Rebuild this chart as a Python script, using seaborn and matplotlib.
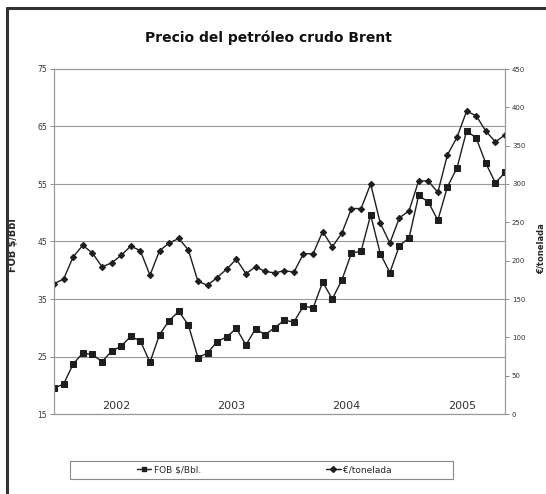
import numpy as np
import pandas as pd
import matplotlib
matplotlib.use('Agg')
import matplotlib.pyplot as plt
from matplotlib.lines import Line2D
from matplotlib.patches import Rectangle
from matplotlib.ticker import MultipleLocator, NullFormatter
import seaborn as sns

# Monthly data, Jan 2002 - Dec 2005
years = ["2002", "2003", "2004", "2005"]
fob_usd_bbl = [19.5, 20.2, 23.7, 25.6, 25.35, 24.1, 25.9, 26.8, 28.5, 27.7, 24.0, 28.8,
               31.25, 32.85, 30.5, 24.8, 25.6, 27.6, 28.4, 29.9, 27.0, 29.8, 28.8, 30.0,
               31.3, 31.0, 33.8, 33.4, 37.95, 35.0, 38.3, 43.0, 43.3, 49.6, 42.9, 39.6,
               44.3, 45.6, 53.0, 51.9, 48.7, 54.5, 57.8, 64.25, 63.0, 58.6, 55.2, 57.0]
eur_tonelada = [170, 176, 205, 220, 210, 192, 197, 207, 219, 213, 181, 213,
                223, 229, 214, 173, 168, 178, 189, 202, 183, 192, 186, 184,
                187, 185, 209, 209, 238, 218, 236, 268, 268, 300, 249, 223,
                256, 265, 304, 304, 289, 338, 361, 395, 389, 369, 355, 364]

df = pd.DataFrame({"mes": np.arange(len(fob_usd_bbl)),
                   "fob": fob_usd_bbl, "eur": eur_tonelada})

sns.set_style("white")
plt.rcParams['font.family'] = ['DejaVu Sans']

W, H = 546, 494
fig = plt.figure(figsize=(W / 100, H / 100), dpi=100)
ax = fig.add_axes([54 / W, 1 - 414 / H, 451 / W, 345 / H])

ink = '#1e1e1e'
sns.lineplot(data=df, x="mes", y="fob", ax=ax, color=ink, lw=1.0,
             marker='s', markersize=4.2, markeredgecolor=ink)
ax2 = ax.twinx()
sns.lineplot(data=df, x="mes", y="eur", ax=ax2, color=ink, lw=1.0,
             marker='D', markersize=3.2, markeredgecolor=ink)

ax.set_xlim(0, len(fob_usd_bbl) - 1)
ax.set_ylim(15, 75)
ax2.set_ylim(0, 450)

ax.set_yticks(np.arange(15, 76, 10))
ax2.set_yticks(np.arange(0, 451, 50))
ax.yaxis.grid(True, color='#999', lw=0.8)
ax.xaxis.grid(False)
ax2.grid(False)

# month ticks + year separators
ax.set_xticks([12, 24, 36])
ax.xaxis.set_minor_locator(MultipleLocator(1))
ax.xaxis.set_major_formatter(NullFormatter())
ax.tick_params(axis='x', which='major', direction='in', length=7, width=0.9, color='#555')
ax.tick_params(axis='x', which='minor', direction='inout', length=3, width=0.6, color='#777')
ax.tick_params(axis='y', direction='out', length=3, width=0.6, color='#777',
               labelsize=5.5, labelcolor='#333', pad=2)
ax2.tick_params(axis='y', direction='out', length=3, width=0.6, color='#777',
                labelsize=5, labelcolor='#333', pad=2)
ax.set_xlabel("")
ax.set_ylabel("FOB $/Bbl", fontsize=7, fontweight='bold')
ax.yaxis.set_label_coords(-0.08, 0.49)
ax2.set_ylabel("€/tonelada", fontsize=6, fontweight='bold', rotation=90)
ax2.yaxis.set_label_coords(1.07, 0.48)

for i, y in enumerate(years):
    ax.text(12 * i + 6.5, 15.6, y, ha='center', va='bottom', fontsize=8,
            color='#333')

for a in (ax, ax2):
    for s in a.spines.values():
        s.set_color('#999')
        s.set_linewidth(0.8)

fig.suptitle("Precio del petróleo crudo Brent", x=268 / W, y=1 - 38 / H,
             va='center', fontsize=10, fontweight='bold', color='#111')

# legend box with two centred entries
fig.patches.append(Rectangle((70 / W, 1 - 479 / H), 383 / W, 18 / H,
                             transform=fig.transFigure, fill=False,
                             edgecolor='#888', lw=0.8))
h1 = Line2D([], [], color=ink, lw=1.0, marker='s', markersize=3.5)
h2 = Line2D([], [], color=ink, lw=1.0, marker='D', markersize=3)
for h, lab, cx in [(h1, "FOB $/Bbl.", 169), (h2, "€/tonelada", 359)]:
    fig.legend([h], [lab], loc='center', bbox_to_anchor=(cx / W, 1 - 470 / H),
               frameon=False, fontsize=6.5, handlelength=1.6, handletextpad=0.3)

# outer frame (open at right and bottom)
fig.add_artist(Line2D([7 / W, 7 / W], [0, 1 - 8 / H], color='#333', lw=2.2,
                      transform=fig.transFigure))
fig.add_artist(Line2D([7 / W, 1], [1 - 8 / H, 1 - 8 / H], color='#333', lw=2.2,
                      transform=fig.transFigure))

fig.savefig("out.png", dpi=100)
